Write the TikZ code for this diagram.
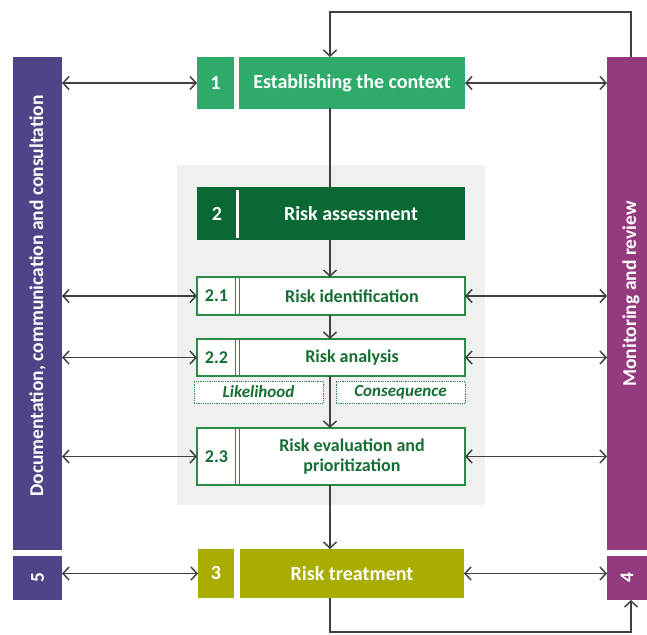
\documentclass[tikz,border=0pt]{standalone}
\usepackage{fontspec}
\setmainfont{Carlito}
\usetikzlibrary{arrows.meta,calc}
\definecolor{lgreen}{RGB}{46,170,106}
\definecolor{dgreen}{RGB}{9,104,52}
\definecolor{ogreen}{RGB}{40,140,70}
\definecolor{tgreen}{RGB}{22,110,50}
\definecolor{olive}{RGB}{168,173,0}
\definecolor{lpurple}{RGB}{77,69,135}
\definecolor{rpurple}{RGB}{147,59,126}
\definecolor{bggray}{RGB}{240,240,240}
\definecolor{linegray}{RGB}{64,64,64}
\begin{document}
\begin{tikzpicture}[x=1pt,y=-1pt,
  base/.style={inner sep=0pt, outer sep=0pt, anchor=north west, align=center},
  solid/.style={base, text=white, font=\bfseries\fontsize{20}{24}\selectfont},
  barfont/.style={base, text=white, font=\bfseries\fontsize{19.5}{23}\selectfont},
  outl/.style={base, draw=ogreen, line width=1.3pt, fill=white, text=tgreen, font=\bfseries\fontsize{18}{20.5}\selectfont},
  dotbox/.style={base, draw=ogreen, densely dotted, line width=0.8pt, fill=white, text=tgreen, font=\bfseries\itshape\fontsize{17}{19}\selectfont},
  conn/.style={draw=linegray, line width=1.5pt},
  arr/.style={conn, -{Straight Barb[length=6pt,width=13pt]}},
  darr/.style={conn, {Straight Barb[length=6pt,width=13pt]}-{Straight Barb[length=6pt,width=13pt]}}
]
\useasboundingbox (0,0) rectangle (647,634);
% gray background
\fill[bggray] (177,165) rectangle (485,505);
% side bars
\node[solid, fill=lpurple, minimum width=49pt, minimum height=493pt] (lbar) at (13,57) {};
\node[barfont, rotate=90, anchor=center] (ltext) at (37.5,296) {Documentation, communication and consultation};
\node[solid, fill=rpurple, minimum width=40pt, minimum height=493pt] (rbar) at (607,57) {};
\node[barfont, rotate=90, anchor=center] (rtext) at (631,294) {Monitoring and review};
\node[barfont, fill=lpurple, minimum width=49pt, minimum height=44pt] (b5) at (13,556) {\rotatebox{90}{5}};
\node[barfont, fill=rpurple, minimum width=40pt, minimum height=44pt] (b4) at (607,556) {\rotatebox{90}{4}};
% box 1
\node[solid, fill=lgreen, minimum width=37pt, minimum height=52pt] (n1) at (197,57) {1};
\node[solid, fill=lgreen, minimum width=226pt, minimum height=52pt] (t1) at (239,57) {Establishing the context};
% box 2
\node[solid, fill=dgreen, minimum width=268pt, minimum height=53pt] (t2) at (197,187) {};
\draw[white, line width=3pt] (237,190) -- (237,238);
\node[solid] (n2) at (217,213.5) [anchor=center] {2};
\node[solid] (l2) at (351,213.5) [anchor=center] {Risk assessment};
% 2.1, 2.2, 2.3
\node[outl, minimum width=268pt, minimum height=38pt] (b21) at (197,277) {};
\node[outl, minimum width=268pt, minimum height=37pt] (b22) at (197,339) {};
\node[outl, minimum width=268pt, minimum height=57pt] (b23) at (197,428) {};
\foreach \b in {b21,b22,b23}{
  \draw[ogreen, line width=1pt] ($(\b.north west)+(38.5,0)$) -- ($(\b.south west)+(38.5,0)$);
  \draw[ogreen, line width=1pt] ($(\b.north west)+(42,0)$) -- ($(\b.south west)+(42,0)$);
}
\node[outl, draw=none, fill=none, anchor=center] (n21) at (216.5,296) {2.1};
\node[outl, draw=none, fill=none, anchor=center] (l21) at (352,296) {Risk identification};
\node[outl, draw=none, fill=none, anchor=center] (n22) at (216.5,357.5) {2.2};
\node[outl, draw=none, fill=none, anchor=center] (l22) at (352,357.5) {Risk analysis};
\node[outl, draw=none, fill=none, anchor=center] (n23) at (216.5,456.5) {2.3};
\node[outl, draw=none, fill=none, anchor=center] (l23) at (352,456.5) {Risk evaluation and\\prioritization};
\node[dotbox, minimum width=129pt, minimum height=22pt] (lik) at (194,381) {Likelihood};
\node[dotbox, minimum width=129pt, minimum height=22pt] (con) at (336,381) {Consequence};
% box 3
\node[solid, fill=olive, minimum width=36pt, minimum height=49pt] (n3) at (198,549) {3};
\node[solid, fill=olive, minimum width=224pt, minimum height=49pt] (t3) at (240,549) {Risk treatment};
% coordinates
\coordinate (c1) at (330,108);
\coordinate (topR) at (631,12);
\coordinate (topL) at (330,12);
\coordinate (botL) at (330,632);
\coordinate (botR) at (631,632);
% vertical flow
\draw[conn] (c1) -- (330,187);
\draw[arr] (330,240) -- (b21.north -| c1);
\draw[arr] (b21.south -| c1) -- (b22.north -| c1);
\draw[arr] (b22.south -| c1) -- (b23.north -| c1);
\draw[arr] (b23.south -| c1) -- (t3.north -| c1);
% loops
\draw[arr] (rbar.north -| topR) -- (topR) -- (topL) -- (n1.north -| c1);
\draw[arr] (t3.south -| c1) -- (botL) -- (botR) -- (b4.south -| botR);
% horizontal arrows
\draw[darr] (lbar.east |- n1.west) -- (n1.west);
\draw[darr] (t1.east) -- (rbar.west |- t1.east);
\draw[darr] (lbar.east |- b21.west) -- (b21.west);
\draw[darr] (b21.east) -- (rbar.west |- b21.east);
\draw[darr] (lbar.east |- b22.west) -- (b22.west);
\draw[darr] (b22.east) -- (rbar.west |- b22.east);
\draw[darr] (lbar.east |- b23.west) -- (b23.west);
\draw[darr] (b23.east) -- (rbar.west |- b23.east);
\draw[darr] (b5.east |- n3.west) -- (n3.west);
\draw[darr] (t3.east) -- (b4.west |- t3.east);
\end{tikzpicture}
\end{document}
